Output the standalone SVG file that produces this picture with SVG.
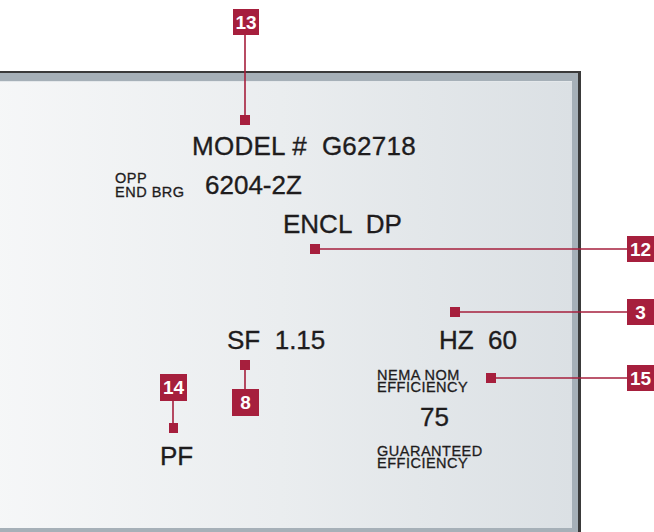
<svg xmlns="http://www.w3.org/2000/svg" width="654" height="532" viewBox="0 0 654 532">
<defs>
<linearGradient id="plateGrad" x1="0" y1="0" x2="1" y2="0">
<stop offset="0" stop-color="#f6f7f8"/>
<stop offset="0.5" stop-color="#eaedef"/>
<stop offset="1" stop-color="#dbe0e4"/>
</linearGradient>
</defs>
<style>
.lbl{font-family:"Liberation Sans",Arial,sans-serif;fill:#1e1c1d;white-space:pre}
.big{font-size:26px;stroke:#1e1c1d;stroke-width:0.35}
.small{font-size:14.5px;letter-spacing:0.5px;stroke:#1e1c1d;stroke-width:0.3}
.badge rect{fill:#a61f3d}
.badge text{font-family:"Liberation Sans",Arial,sans-serif;font-weight:bold;font-size:19px;fill:#ffffff;text-anchor:middle}
.dot{fill:#a61f3d}
.conn line{stroke:#a61f3d;stroke-width:1.6}
</style>
<g id="plate">
<rect x="-10" y="71" width="591" height="480" fill="#3a3a3a"/>
<rect x="-10" y="73" width="588" height="480" fill="#a6b0b8"/>
<rect x="-10" y="81" width="582" height="447" fill="url(#plateGrad)"/>
<line x1="-10" y1="81.5" x2="572" y2="81.5" stroke="#e4e8eb" stroke-width="1"/>
</g>
<g id="texts">
<text class="lbl big" x="192" y="155" xml:space="preserve" style="letter-spacing:0.25px">MODEL #  G62718</text>
<text class="lbl small" x="115" y="183"><tspan x="115" y="183">OPP</tspan><tspan x="115" y="197">END BRG</tspan></text>
<text class="lbl big" x="205" y="194">6204-2Z</text>
<text class="lbl big" x="283" y="233" xml:space="preserve">ENCL  DP</text>
<text class="lbl big" x="227" y="349" xml:space="preserve">SF  1.15</text>
<text class="lbl big" x="439" y="349" xml:space="preserve">HZ  60</text>
<text class="lbl small" x="377" y="380"><tspan x="377" y="380">NEMA NOM</tspan><tspan x="377" y="392">EFFICIENCY</tspan></text>
<text class="lbl big" x="420" y="426">75</text>
<text class="lbl small" x="377" y="456"><tspan x="377" y="456">GUARANTEED</tspan><tspan x="377" y="468">EFFICIENCY</tspan></text>
<text class="lbl big" x="160" y="465">PF</text>
</g>
<g id="connectors" class="conn">
<line x1="245" y1="35" x2="245" y2="116"/>
<line x1="315" y1="249" x2="627" y2="249"/>
<line x1="455" y1="312" x2="627" y2="312"/>
<line x1="491" y1="378" x2="627" y2="378"/>
<line x1="245" y1="365" x2="245" y2="389"/>
<line x1="173" y1="401" x2="173" y2="428"/>
</g>
<g id="node-13" class="badge">
<rect x="233" y="9" width="26" height="26"/>
<text x="246" y="29">13</text>
<rect class="dot" x="240" y="115" width="10" height="10"/>
</g>
<g id="node-12" class="badge">
<rect x="627" y="236" width="27" height="26"/>
<text x="640.5" y="256">12</text>
<rect class="dot" x="310" y="244" width="10" height="10"/>
</g>
<g id="node-3" class="badge">
<rect x="627" y="299" width="27" height="26"/>
<text x="640.5" y="319">3</text>
<rect class="dot" x="450" y="307" width="10" height="10"/>
</g>
<g id="node-15" class="badge">
<rect x="627" y="365" width="27" height="26"/>
<text x="640.5" y="385">15</text>
<rect class="dot" x="486" y="373" width="10" height="10"/>
</g>
<g id="node-8" class="badge">
<rect x="232" y="389" width="27" height="27"/>
<text x="245.5" y="409">8</text>
<rect class="dot" x="240" y="360" width="10" height="10"/>
</g>
<g id="node-14" class="badge">
<rect x="160" y="374" width="27" height="27"/>
<text x="173.5" y="394">14</text>
<rect class="dot" x="169" y="423" width="9" height="10"/>
</g>
</svg>
